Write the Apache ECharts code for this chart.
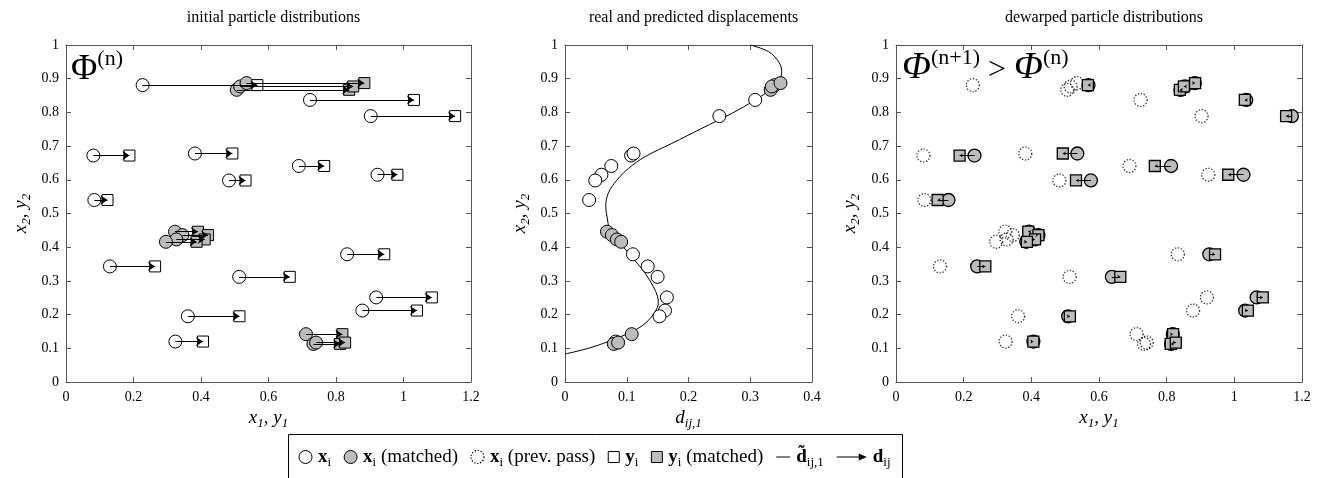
<!DOCTYPE html>
<html>
<head>
<meta charset="utf-8">
<script src="https://cdn.jsdelivr.net/npm/echarts@6/dist/echarts.min.js"></script>
<style>
  html, body { margin: 0; padding: 0; background: #fff; }
  #chart { width: 1322px; height: 478px; }
</style>
</head>
<body>
<div id="chart"></div>
<script>
// Particle pairs: x_i at (circleX, particleY), y_i at (squareX, particleY)
const particleY = [0.881, 0.837, 0.789, 0.672, 0.678, 0.641, 0.615, 0.598, 0.540, 0.343, 0.312, 0.379, 0.251, 0.212, 0.195, 0.120,
                   0.867, 0.877, 0.887, 0.446, 0.436, 0.423, 0.416, 0.142, 0.113, 0.117];
const circleX   = [0.227, 0.723, 0.903, 0.081, 0.382, 0.690, 0.923, 0.483, 0.084, 0.130, 0.513, 0.833, 0.919, 0.878, 0.361, 0.324,
                   0.506, 0.516, 0.535, 0.323, 0.345, 0.327, 0.296, 0.711, 0.733, 0.741];
const squareX   = [0.567, 1.031, 1.153, 0.188, 0.493, 0.765, 0.982, 0.532, 0.123, 0.264, 0.663, 0.943, 1.084, 1.040, 0.514, 0.406,
                   0.839, 0.851, 0.884, 0.391, 0.421, 0.411, 0.387, 0.819, 0.812, 0.827];
// x_i after dewarping with the predicted displacement
const dewarpedX = [0.569, 1.035, 1.170, 0.232, 0.536, 0.813, 1.027, 0.576, 0.155, 0.240, 0.638, 0.926, 1.066, 1.032, 0.509, 0.406,
                   0.841, 0.854, 0.883, 0.393, 0.421, 0.410, 0.385, 0.818, 0.813, 0.823];
const isMatched = [0,0,0,0,0,0,0,0,0,0,0,0,0,0,0,0, 1,1,1,1,1,1,1,1,1,1];

// Predicted displacement curve d~(x2)
const curveD = [0.000, 0.038, 0.070, 0.108, 0.130, 0.146, 0.151, 0.150, 0.143, 0.130, 0.108, 0.089, 0.073, 0.068, 0.066,
                0.070, 0.084, 0.103, 0.130, 0.173, 0.222, 0.270, 0.308, 0.335, 0.347, 0.351, 0.346, 0.330, 0.300];
const curveY = [0.083, 0.100, 0.120, 0.149, 0.174, 0.209, 0.233, 0.253, 0.283, 0.322, 0.372, 0.412, 0.451, 0.491, 0.520,
                0.560, 0.599, 0.634, 0.669, 0.708, 0.753, 0.797, 0.837, 0.871, 0.896, 0.921, 0.950, 0.980, 1.000];

const titles = ['initial particle distributions', 'real and predicted displacements', 'dewarped particle distributions'];

const SERIF = 'Liberation Serif';
const AXIS_COLOR = '#555';
const GRAY = '#bcbcbc';

const grids = [
  { left: 66, top: 45, width: 405, height: 337 },
  { left: 565, top: 45, width: 247, height: 337 },
  { left: 896, top: 45, width: 406, height: 337 }
];

const nameRich = {
  i: { fontFamily: SERIF, fontStyle: 'italic', fontSize: 19, lineHeight: 24, verticalAlign: 'middle', color: '#000' },
  s: { fontFamily: SERIF, fontStyle: 'italic', fontSize: 13, lineHeight: 13, verticalAlign: 'bottom', color: '#000' }
};

function makeAxes(gi, xMax, xInterval, xName, yName, yGap) {
  const common = {
    gridIndex: gi, type: 'value', min: 0,
    axisLine: { show: true, onZero: false, lineStyle: { color: AXIS_COLOR, width: 1 } },
    axisTick: { show: true, inside: true, length: 5, lineStyle: { color: AXIS_COLOR } },
    splitLine: { show: false }
  };
  const label = { fontFamily: SERIF, fontSize: 14, color: '#000' };
  const x = [
    Object.assign({}, common, { max: xMax, interval: xInterval, position: 'bottom',
      axisLabel: Object.assign({ margin: 8 }, label),
      name: xName, nameLocation: 'middle', nameGap: 22, nameTextStyle: { rich: nameRich } }),
    Object.assign({}, common, { max: xMax, interval: xInterval, position: 'top', axisLabel: { show: false } })
  ];
  const y = [
    Object.assign({}, common, { max: 1, interval: 0.1, position: 'left',
      axisLabel: Object.assign({ margin: 7 }, label),
      name: yName, nameLocation: 'middle', nameRotate: 90, nameGap: yGap, nameTextStyle: { rich: nameRich } }),
    Object.assign({}, common, { max: 1, interval: 0.1, position: 'right', axisLabel: { show: false } })
  ];
  return { x, y };
}

const xyName = '{i|x}{s|1}{i|, y}{s|1}';
const yyName = '{i|x}{s|2}{i|, y}{s|2}';
const a1 = makeAxes(0, 1.2, 0.2, xyName, yyName, 33);
const a2 = makeAxes(1, 0.4, 0.1, '{i|d}{s|ij,1}', yyName, 33);
const a3 = makeAxes(2, 1.2, 0.2, xyName, yyName, 34);

function pick(cond, fx) {
  const out = [];
  for (let i = 0; i < particleY.length; i++) if (cond(i)) out.push([fx(i), particleY[i]]);
  return out;
}
const all = () => true;
const open = i => !isMatched[i];
const matched = i => !!isMatched[i];

function markStyle(fill, width) {
  return { color: fill, borderColor: '#000', borderWidth: width || 1, opacity: 1 };
}

function arrows(fromX, toX) {
  return particleY.map((y, i) => ({ coords: [[fromX[i], y], [toX[i], y]] }));
}

const displacement = i => squareX[i] - circleX[i];
const curveData = curveD.map((d, i) => [d, curveY[i]]);

const series = [
  // Panel 1: initial distributions
  { type: 'scatter', xAxisIndex: 0, yAxisIndex: 0, symbol: 'circle', symbolSize: 13, z: 2,
    itemStyle: markStyle('#fff'), data: pick(open, i => circleX[i]) },
  { type: 'scatter', xAxisIndex: 0, yAxisIndex: 0, symbol: 'circle', symbolSize: 13, z: 2,
    itemStyle: markStyle(GRAY), data: pick(matched, i => circleX[i]) },
  { type: 'scatter', xAxisIndex: 0, yAxisIndex: 0, symbol: 'rect', symbolSize: 11, z: 3,
    itemStyle: markStyle('#fff'), data: pick(open, i => squareX[i]) },
  { type: 'scatter', xAxisIndex: 0, yAxisIndex: 0, symbol: 'rect', symbolSize: 11, z: 3,
    itemStyle: markStyle(GRAY), data: pick(matched, i => squareX[i]) },
  { type: 'lines', coordinateSystem: 'cartesian2d', xAxisIndex: 0, yAxisIndex: 0, z: 4,
    symbol: ['none', 'arrow'], symbolSize: 7,
    lineStyle: { color: '#000', width: 1, opacity: 1 }, data: arrows(circleX, squareX) },

  // Panel 2: displacements
  { type: 'line', xAxisIndex: 2, yAxisIndex: 2, data: curveData, smooth: 0.35, showSymbol: false,
    lineStyle: { color: '#000', width: 1 }, z: 1, clip: true },
  { type: 'scatter', xAxisIndex: 2, yAxisIndex: 2, symbol: 'circle', symbolSize: 13, z: 2,
    itemStyle: markStyle('#fff'), data: pick(open, displacement) },
  { type: 'scatter', xAxisIndex: 2, yAxisIndex: 2, symbol: 'circle', symbolSize: 13, z: 3,
    itemStyle: markStyle(GRAY), data: pick(matched, displacement) },

  // Panel 3: dewarped distributions
  { type: 'scatter', xAxisIndex: 4, yAxisIndex: 4, symbol: 'circle', symbolSize: 13, z: 1,
    itemStyle: { color: 'rgba(0,0,0,0)', borderColor: '#000', borderWidth: 1.3, borderType: [1.3, 1.7] },
    data: pick(all, i => circleX[i]) },
  { type: 'scatter', xAxisIndex: 4, yAxisIndex: 4, symbol: 'circle', symbolSize: 13, z: 2,
    itemStyle: markStyle(GRAY, 1.3), data: pick(all, i => dewarpedX[i]) },
  { type: 'scatter', xAxisIndex: 4, yAxisIndex: 4, symbol: 'rect', symbolSize: 11, z: 3,
    itemStyle: markStyle(GRAY, 1.3), data: pick(all, i => squareX[i]) },
  { type: 'lines', coordinateSystem: 'cartesian2d', xAxisIndex: 4, yAxisIndex: 4, z: 4,
    symbol: ['none', 'arrow'], symbolSize: 3,
    lineStyle: { color: '#000', width: 1, opacity: 1 }, data: arrows(dewarpedX, squareX) }
];

// Legend and panel labels drawn as graphic elements
const ctx = document.createElement('canvas').getContext('2d');
function tw(text, font) { ctx.font = font; return ctx.measureText(text).width; }

const LF = 19, LS = 13;
const fN = LF + 'px "' + SERIF + '"';
const fB = 'bold ' + LF + 'px "' + SERIF + '"';
const fS = LS + 'px "' + SERIF + '"';
const legendRich = {
  b: { fontFamily: SERIF, fontWeight: 'bold', fontSize: LF, lineHeight: 24, verticalAlign: 'middle', fill: '#000' },
  n: { fontFamily: SERIF, fontSize: LF, lineHeight: 24, verticalAlign: 'middle', fill: '#000' },
  s: { fontFamily: SERIF, fontSize: LS, lineHeight: 13, verticalAlign: 'bottom', fill: '#000' }
};
const legendItems = [
  { sym: 'open', parts: [['b', 'x'], ['s', 'i']] },
  { sym: 'gray', parts: [['b', 'x'], ['s', 'i'], ['n', ' (matched)']] },
  { sym: 'dotted', parts: [['b', 'x'], ['s', 'i'], ['n', ' (prev. pass)']] },
  { sym: 'openSq', parts: [['b', 'y'], ['s', 'i']] },
  { sym: 'graySq', parts: [['b', 'y'], ['s', 'i'], ['n', ' (matched)']] },
  { sym: 'dash', parts: [['b', 'd\u0303'], ['s', 'ij,1']] },
  { sym: 'arrow', parts: [['b', 'd'], ['s', 'ij']] }
];
const symW = { open: 13, gray: 13, dotted: 13, openSq: 11, graySq: 11, dash: 14, arrow: 30 };
const fontFor = { b: fB, n: fN, s: fS };
const SYM_GAP = 6, ITEM_GAP = 13, PAD = 11;
let total = 0;
legendItems.forEach((it, k) => {
  it.textW = it.parts.reduce((w, p) => w + tw(p[1], fontFor[p[0]]), 0);
  total += symW[it.sym] + SYM_GAP + it.textW + (k < legendItems.length - 1 ? ITEM_GAP : 0);
});
const boxW = Math.round(total + 2 * PAD);
const boxX = 288;
const boxY = 434;
const cy = 457;
const graphics = [
  { type: 'rect', shape: { x: boxX + 0.5, y: boxY + 0.5, width: boxW, height: 60 },
    style: { fill: '#fff', stroke: '#000', lineWidth: 1 }, z: 10 }
];
let cx = boxX + PAD;
legendItems.forEach(it => {
  const w = symW[it.sym];
  const mid = cx + w / 2;
  if (it.sym === 'open' || it.sym === 'gray' || it.sym === 'dotted') {
    graphics.push({ type: 'circle', shape: { cx: mid, cy: cy, r: 6.5 }, z: 11,
      style: { fill: it.sym === 'gray' ? GRAY : (it.sym === 'open' ? '#fff' : 'none'), stroke: '#000',
               lineWidth: it.sym === 'dotted' ? 1.2 : 1,
               lineDash: it.sym === 'dotted' ? [1.3, 1.7] : null } });
  } else if (it.sym === 'openSq' || it.sym === 'graySq') {
    graphics.push({ type: 'rect', shape: { x: mid - 5.5, y: cy - 5.5, width: 11, height: 11 }, z: 11,
      style: { fill: it.sym === 'graySq' ? GRAY : '#fff', stroke: '#000', lineWidth: 1 } });
  } else if (it.sym === 'dash') {
    graphics.push({ type: 'line', shape: { x1: cx, y1: cy, x2: cx + w, y2: cy }, z: 11,
      style: { stroke: '#000', lineWidth: 1 } });
  } else {
    graphics.push({ type: 'line', shape: { x1: cx, y1: cy, x2: cx + w - 6, y2: cy }, z: 11,
      style: { stroke: '#000', lineWidth: 1 } });
    graphics.push({ type: 'polygon', shape: { points: [[cx + w, cy], [cx + w - 8, cy - 3.5], [cx + w - 8, cy + 3.5]] }, z: 11,
      style: { fill: '#000' } });
  }
  cx += w + SYM_GAP;
  graphics.push({ type: 'text', x: cx, y: cy, z: 11,
    style: { text: it.parts.map(p => '{' + p[0] + '|' + p[1] + '}').join(''), rich: legendRich,
             verticalAlign: 'middle', align: 'left' } });
  cx += it.textW + ITEM_GAP;
});

// Panel labels
const phiRich = {
  p: { fontFamily: SERIF, fontSize: 36, lineHeight: 40, verticalAlign: 'bottom', fill: '#000' },
  pi: { fontFamily: SERIF, fontSize: 38, fontStyle: 'italic', lineHeight: 40, verticalAlign: 'bottom', fill: '#000' },
  u: { fontFamily: SERIF, fontSize: 22, lineHeight: 22, verticalAlign: 'top', fill: '#000' },
  g: { fontFamily: SERIF, fontSize: 32, lineHeight: 40, verticalAlign: 'bottom', fill: '#000' }
};
graphics.push({ type: 'text', x: 71, y: 48, z: 5,
  style: { text: '{p|\u03A6}{u|(n)}', rich: phiRich } });
graphics.push({ type: 'text', x: 902, y: 47, z: 5,
  style: { text: '{pi|\u03A6}{u|(n+1)}{g| > }{pi|\u03A6}{u|(n)}', rich: phiRich } });

const option = {
  animation: false,
  backgroundColor: '#fff',
  title: titles.map((t, k) => ({
    text: t, left: grids[k].left + grids[k].width / 2, top: 5, textAlign: 'center',
    textStyle: { fontFamily: SERIF, fontSize: 16, fontWeight: 'normal', color: '#000' }
  })),
  grid: grids,
  xAxis: [].concat(a1.x, a2.x, a3.x),
  yAxis: [].concat(a1.y, a2.y, a3.y),
  series: series,
  graphic: graphics
};

const chart = echarts.init(document.getElementById('chart'), null, { renderer: 'canvas' });
chart.setOption(option);
</script>
</body>
</html>
